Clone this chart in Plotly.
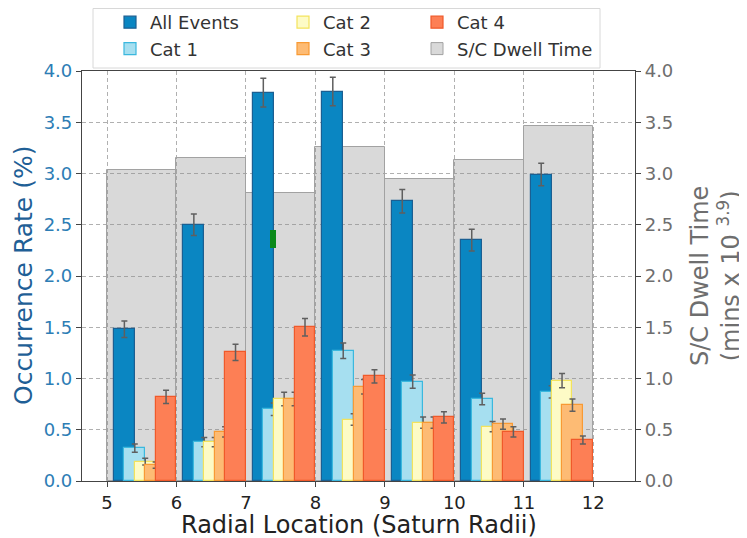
import plotly.graph_objects as go

bins = [5, 6, 7, 8, 9, 10, 11]
tick_vals = [5, 6, 7, 8, 9, 10, 11, 12]
y_ticks = [0.0, 0.5, 1.0, 1.5, 2.0, 2.5, 3.0, 3.5, 4.0]

dwell = [3.03, 3.15, 2.81, 3.26, 2.95, 3.13, 3.46]
all_events = [1.48, 2.50, 3.79, 3.80, 2.73, 2.35, 2.99]
cat1 = [0.32, 0.38, 0.70, 1.27, 0.97, 0.80, 0.87]
cat2 = [0.19, 0.38, 0.80, 0.60, 0.57, 0.53, 0.98]
cat3 = [0.155, 0.48, 0.80, 0.92, 0.57, 0.555, 0.74]
cat4 = [0.82, 1.255, 1.50, 1.02, 0.62, 0.48, 0.40]

err_all = [0.08, 0.105, 0.14, 0.14, 0.115, 0.105, 0.11]
err_cat1 = [0.04, 0.045, 0.06, 0.076, 0.065, 0.055, 0.06]
err_cat2 = [0.033, 0.045, 0.065, 0.055, 0.055, 0.05, 0.07]
err_cat3 = [0.03, 0.05, 0.065, 0.07, 0.055, 0.05, 0.06]
err_cat4 = [0.065, 0.08, 0.085, 0.065, 0.055, 0.05, 0.04]

# small green marker seen inside the 7-8 bin
green_x = [7.39]
green_base = [2.27]
green_h = [0.18]

FONT = "DejaVu Sans"
# page body adds an 8px offset, so the figure is 8px smaller than the window
W, H = 739, 530
ML, MR, MT, MB = 74, 112, 63, 57
pw = W - ML - MR
ph = H - MT - MB
OFF = 8  # screen offset


def px_x(screen_x):
    return (screen_x - OFF - ML) / pw


def px_y(screen_y):
    return 1 + (MT - (screen_y - OFF)) / ph


fig = go.Figure()

# dwell time (primary y, drawn on right)
fig.add_trace(go.Bar(
    x=[b + 0.5 for b in bins], y=dwell, width=1.0, name="S/C Dwell Time",
    marker=dict(color="rgba(140,140,140,0.33)", line=dict(color="#a2a2a2", width=1)),
    yaxis="y", legend="legend3", legendrank=2,
))

series = [
    ("All Events", all_events, err_all, "#0a86c2", "#1b5f92", 0, "legend", 1),
    ("Cat 1", cat1, err_cat1, "#a6dff0", "#3bb8de", 1, "legend", 2),
    ("Cat 2", cat2, err_cat2, "#fdfbc6", "#f3e35c", 2, "legend2", 1),
    ("Cat 3", cat3, err_cat3, "#fdbb74", "#f89a34", 3, "legend2", 2),
    ("Cat 4", cat4, err_cat4, "#fd7f55", "#f0592a", 4, "legend3", 1),
]
for name, vals, errs, fill, edge, k, leg, rank in series:
    fig.add_trace(go.Bar(
        x=[b + 0.25 + 0.15 * k for b in bins], y=vals, width=0.3, name=name,
        marker=dict(color=fill, line=dict(color=edge, width=1.2)),
        error_y=dict(type="data", array=errs, color="#5f5f5f", thickness=1.5, width=3),
        yaxis="y2", legend=leg, legendrank=rank,
    ))

fig.add_trace(go.Bar(
    x=green_x, y=green_h, base=green_base, width=0.08,
    marker=dict(color="#0a8a1a", line=dict(width=0)), showlegend=False,
    yaxis="y2", hoverinfo="skip",
))

grid = dict(showgrid=True, gridcolor="#b0b0b0", griddash="4px,3px", gridwidth=1)


def leg(text_x):
    return dict(
        orientation="v", xref="paper", yref="paper",
        x=px_x(text_x - 40), xanchor="left", y=px_y(4), yanchor="top",
        bgcolor="rgba(0,0,0,0)", borderwidth=0,
        font=dict(family=FONT, size=18, color="#333"), traceorder="normal",
    )


fig.update_layout(
    width=W, height=H,
    margin=dict(l=ML, r=MR, t=MT, b=MB, autoexpand=False),
    barmode="overlay", bargap=0,
    paper_bgcolor="white", plot_bgcolor="white",
    font=dict(family=FONT, size=18, color="#333"),
    xaxis=dict(
        range=[4.64, 12.6], tickvals=tick_vals, ticks="outside", ticklen=5,
        tickfont=dict(size=18, color="#222"), automargin=False,
        showline=True, linecolor="#444", linewidth=1.2, mirror=True, zeroline=False,
        **grid,
    ),
    yaxis=dict(
        side="right", range=[0, 4], tickvals=y_ticks, tickformat=".1f",
        ticks="outside", ticklen=5, tickfont=dict(size=18, color="#6e6e6e"), automargin=False,
        showline=True, linecolor="#444", linewidth=1.2, zeroline=False,
        **grid,
    ),
    yaxis2=dict(
        overlaying="y", side="left", range=[0, 4], tickvals=y_ticks, tickformat=".1f",
        ticks="outside", ticklen=5, tickfont=dict(size=18, color="#2d7db5"), automargin=False,
        showgrid=False, showline=True, linecolor="#444", linewidth=1.2, zeroline=False,
    ),
    legend=leg(150),
    legend2=leg(323),
    legend3=leg(457),
    shapes=[dict(
        type="rect", xref="paper", yref="paper", layer="above",
        x0=px_x(93), x1=px_x(600), y0=px_y(68), y1=px_y(8.5),
        fillcolor="white", line=dict(color="#d8d8d8", width=1),
    )],
    annotations=[
        dict(text="Radial Location (Saturn Radii)", xref="paper", yref="paper",
             x=0.5, y=px_y(525), xanchor="center", yanchor="middle", showarrow=False,
             font=dict(family=FONT, size=24, color="#222")),
        dict(text="Occurrence Rate (%)", xref="paper", yref="paper",
             x=px_x(23), y=0.5, xanchor="center", yanchor="middle", showarrow=False,
             textangle=-90, font=dict(family=FONT, size=25, color="#1f5f96")),
        dict(text="S/C Dwell Time<br>(mins x 10 <sup>3.9</sup>)", xref="paper", yref="paper",
             x=px_x(715), y=0.5, xanchor="center", yanchor="middle", showarrow=False,
             textangle=-90, font=dict(family=FONT, size=24, color="#6e6e6e")),
    ],
)

fig.write_html("out.html")
